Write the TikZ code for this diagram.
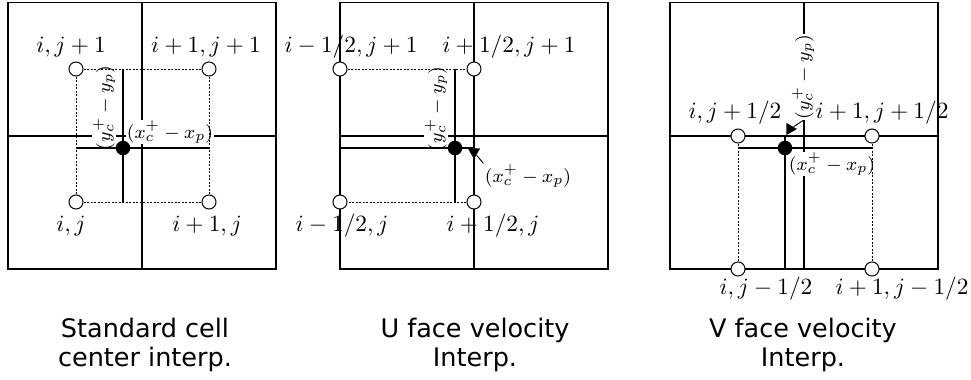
\documentclass[tikz,border=0pt]{standalone}
\usepackage{fontspec}
\newfontfamily\capfont{DejaVu Sans}
\usetikzlibrary{shapes.geometric}
\begin{document}
\begin{tikzpicture}[x=0.42735bp,y=-0.42735bp,
  gridline/.style={line width=0.56bp},
  dsh/.style={line width=0.4bp, dash pattern=on 0.85bp off 0.65bp},
  thk/.style={line width=1.03bp},
  pt/.style={circle, draw, fill=white, line width=0.43bp, minimum size=6bp, inner sep=0pt},
  pdot/.style={circle, fill=black, minimum size=6.2bp, inner sep=0pt},
  lab/.style={font=\normalsize, inner sep=0pt},
  slab/.style={font=\footnotesize, inner sep=0.4bp, fill=white},
  captext/.style={font=\capfont\fontsize{10.9bp}{12.4bp}\selectfont, align=center, inner sep=0pt},
  tri/.style={regular polygon, regular polygon sides=3, fill=black, inner sep=0pt, minimum size=6bp},
  conn/.style={line width=0.4bp}
]
\useasboundingbox (0,0) rectangle (971,379);

% ---------- Panel 1 ----------
\draw[gridline] (8,2.5) rectangle (276,269);
\draw[gridline] (142,2.5) -- (142,269);
\draw[gridline] (8,136) -- (276,136);
\node[slab, rotate=90] (ly1) at (104,108) {$(y_c^+-y_p)$};
\node[slab] (lx1) at (170,132) {$(x_c^+-x_p)$};
\coordinate (h1l) at (76,148);
\coordinate (h1r) at (209,148);
\coordinate (v1t) at (123,69);
\coordinate (v1b) at (123,202);
\draw[thk] (h1l) -- (h1r);
\draw[thk] (v1t) -- (v1b);
\node[pt] (a1) at (76,69) {};
\node[pt] (b1) at (209,69) {};
\node[pt] (c1) at (76,202) {};
\node[pt] (d1) at (209,202) {};
\draw[dsh] (a1) -- (b1) (b1) -- (d1) (d1) -- (c1) (c1) -- (a1);
\node[lab, anchor=base] (la1) at (71,52) {$i,j+1$};
\node[lab, anchor=base] (lb1) at (206,52) {$i+1,j+1$};
\node[lab, anchor=base] (lc1) at (71,231) {$i,j$};
\node[lab, anchor=base] (ld1) at (207,231) {$i+1,j$};
\node[pdot] (p1) at (123,148) {};
\node[captext, anchor=north] (cap1) at (145,318) {Standard cell\\center interp.};

% ---------- Panel 2 ----------
\draw[gridline] (340,2.5) rectangle (608,269);
\draw[gridline] (474,2.5) -- (474,269);
\draw[gridline] (340,136) -- (608,136);
\node[slab, rotate=90] (ly2) at (436,109) {$(y_c^+-y_p)$};
\node[slab] (lx2) at (528,176) {$(x_c^+-x_p)$};
\coordinate (h2l) at (340,148);
\coordinate (h2r) at (474,148);
\coordinate (v2t) at (455,69);
\coordinate (v2b) at (455,202);
\coordinate (f2t) at (474,69);
\coordinate (f2b) at (474,202);
\draw[thk] (h2l) -- (h2r);
\draw[thk] (v2t) -- (v2b);
\draw[thk] (f2t) -- (f2b);
\node[pt] (a2) at (340,69) {};
\node[pt] (b2) at (474,69) {};
\node[pt] (c2) at (340,202) {};
\node[pt] (d2) at (474,202) {};
\draw[dsh] (a2) -- (b2) (b2) -- (d2) (d2) -- (c2) (c2) -- (a2);
\node[lab, anchor=base] (la2) at (351,52) {$i-1/2,j+1$};
\node[lab, anchor=base] (lb2) at (509,52) {$i+1/2,j+1$};
\node[lab, anchor=base] (lc2) at (342,231) {$i-1/2,j$};
\node[lab, anchor=base] (ld2) at (493,231) {$i+1/2,j$};
\node[pdot] (p2) at (455,148) {};
\node[tri, shape border rotate=180] (t2) at (474,152) {};
\draw[conn] (lx2.north west) -- (t2);
\node[captext, anchor=north] (cap2) at (475,318) {U face velocity\\Interp.};

% ---------- Panel 3 ----------
\draw[gridline] (670,2.5) rectangle (938,269);
\draw[gridline] (804,2.5) -- (804,269);
\draw[gridline] (670,136) -- (938,136);
\node[slab, rotate=90] (ly3) at (803,77) {$(y_c^+-y_p)$};
\node[slab] (lx3) at (832,164) {$(x_c^+-x_p)$};
\coordinate (h3l) at (738,148);
\coordinate (h3r) at (872,148);
\coordinate (v3t) at (785,136);
\coordinate (v3b) at (785,269);
\draw[thk] (h3l) -- (h3r);
\draw[thk] (v3t) -- (v3b);
\node[pt] (a3) at (738,136) {};
\node[pt] (b3) at (872,136) {};
\node[pt] (c3) at (738,269) {};
\node[pt] (d3) at (872,269) {};
\draw[dsh] (a3) -- (b3) (b3) -- (d3) (d3) -- (c3) (c3) -- (a3);
\node[lab, anchor=base] (la3) at (735,118) {$i,j+1/2$};
\node[lab, anchor=base] (lb3) at (882,118) {$i+1,j+1/2$};
\node[lab, anchor=base] (lc3) at (766,294) {$i,j-1/2$};
\node[lab, anchor=base] (ld3) at (902,294) {$i+1,j-1/2$};
\node[pdot] (p3) at (785,148) {};
\node[tri, shape border rotate=-90] (t3) at (790,129) {};
\draw[conn] (ly3.west) -- (t3);
\node[captext, anchor=north] (cap3) at (803,318) {V face velocity\\Interp.};
\end{tikzpicture}
\end{document}
